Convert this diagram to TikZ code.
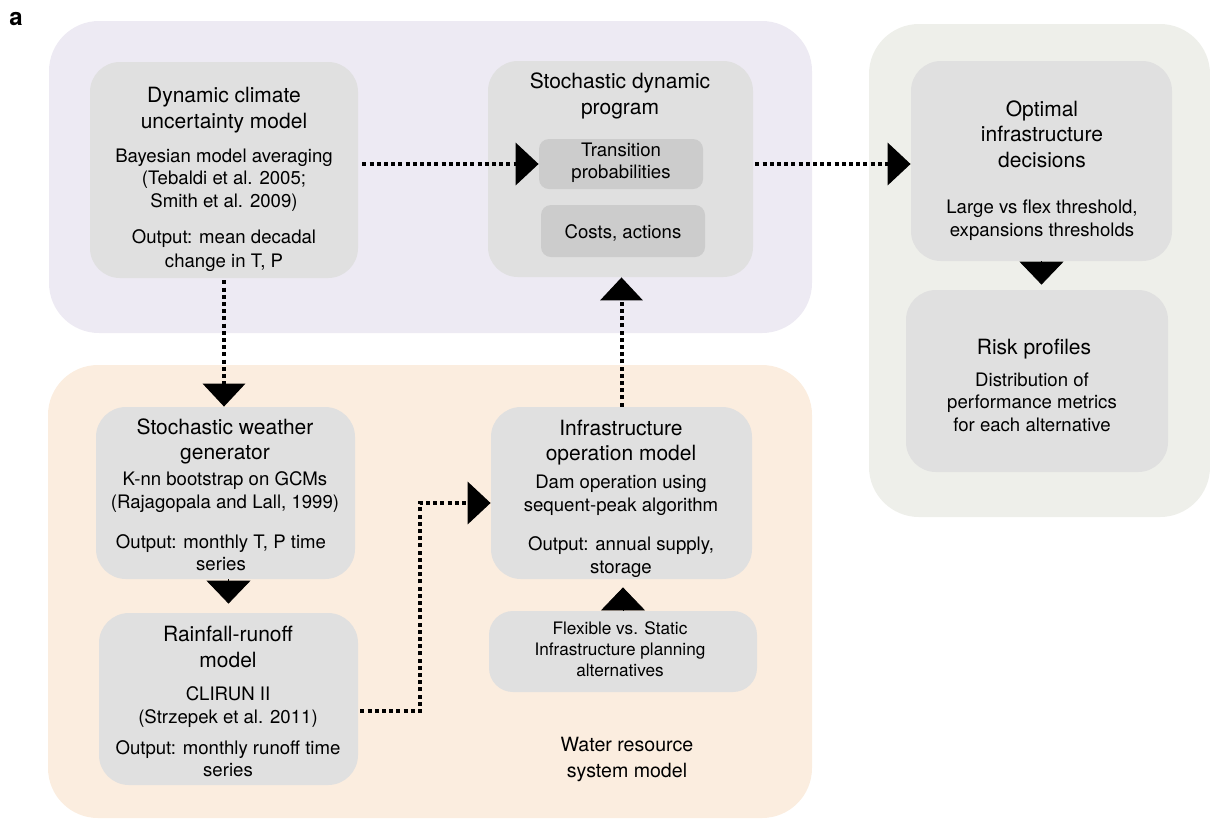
\documentclass[tikz,border=0pt]{standalone}
\usepackage{fontspec}
\setmainfont{TeX Gyre Heros}
\usetikzlibrary{arrows.meta,fit}
\definecolor{purpbg}{RGB}{237,234,243}
\definecolor{greenbg}{RGB}{238,239,234}
\definecolor{orangebg}{RGB}{251,237,223}
\definecolor{boxgray}{RGB}{224,224,224}
\definecolor{innergray}{RGB}{204,204,204}
\begin{document}
\begin{tikzpicture}[x=0.5pt,y=-0.5pt,
 panel/.style={rounded corners=25pt, inner sep=0pt, draw=none},
 box/.style={fill=boxgray, rounded corners=15pt, inner sep=0pt},
 inbox/.style={fill=innergray, rounded corners=5pt, inner sep=0pt},
 ttl/.style={anchor=base, align=center, inner sep=0pt, font=\fontsize{10.5}{13}\selectfont},
 sub/.style={anchor=base, align=center, inner sep=0pt, font=\fontsize{9.3}{11.25}\selectfont},
 dotarrow/.style={line width=2pt, dash pattern=on 2pt off 1.6pt, -{Triangle[length=11.5pt,width=21pt]}},
 solidtip/.style={line width=0.4pt, -{Triangle[length=11.5pt,width=22pt]}}
]
\useasboundingbox (0,0) rectangle (1210,821);
% panels
\node[panel, fill=purpbg, fit={(49,21)(812,333)}] (climatePanel) {};
\node[panel, fill=greenbg, fit={(869,24)(1210,517)}] (decisionPanel) {};
\node[panel, fill=orangebg, fit={(48,365)(812,818)}] (waterPanel) {};
% boxes
\node[box, fit={(90,62)(358,278)}] (dyn) {};
\node[box, fit={(488,61)(753,277)}] (sdp) {};
\node[inbox, fit={(539,139)(703,189)}] (trans) {};
\node[inbox, fit={(541,205)(705,257)}] (costs) {};
\node[box, fit={(911,61)(1172,261)}] (opt) {};
\node[box, fit={(906,290)(1168,472)}] (risk) {};
\node[box, fit={(96,407)(355,579)}] (weather) {};
\node[box, fit={(99,613)(358,785)}] (rain) {};
\node[box, fit={(491,407)(752,579)}] (infra) {};
\node[box, rounded corners=12pt, fit={(489,611)(757,692)}] (flex) {};
% label
\node[anchor=base west, inner sep=0pt, font=\bfseries\fontsize{12}{14}\selectfont] (panelLabel) at (9,25) {a};
% texts (positions are baselines of the last line)
\node[ttl] (dynT) at (224,128) {Dynamic climate\\uncertainty model};
\node[sub] (dynS1) at (224,207) {Bayesian model averaging\\(Tebaldi et al. 2005;\\Smith et al. 2009)};
\node[sub, font=\fontsize{9.3}{11.8}\selectfont] (dynS2) at (224,267) {Output: mean decadal\\change in T, P};
\node[ttl] (sdpT) at (620,114) {Stochastic dynamic\\program};
\node[sub, font=\fontsize{9.3}{10.6}\selectfont] (transT) at (621,178) {Transition\\probabilities};
\node[sub] (costsT) at (623,238) {Costs, actions};
\node[ttl, font=\fontsize{10.5}{12.6}\selectfont] (optT) at (1042,167) {Optimal\\infrastructure\\decisions};
\node[sub] (optS) at (1042,236) {Large vs flex threshold,\\expansions thresholds};
\node[ttl] (riskT) at (1034,354) {Risk profiles};
\node[sub] (riskS) at (1032,431) {Distribution of\\performance metrics\\for each alternative};
\node[ttl, font=\fontsize{10.5}{12.5}\selectfont] (weatherT) at (225,459) {Stochastic weather\\generator};
\node[sub] (weatherS1) at (225,508) {K-nn bootstrap on GCMs\\(Rajagopala and Lall, 1999)};
\node[sub, font=\fontsize{9.3}{10.6}\selectfont] (weatherS2) at (221,570) {Output: monthly T, P time\\series};
\node[ttl, font=\fontsize{10.5}{12.7}\selectfont] (rainT) at (228,667) {Rainfall-runoff\\model};
\node[sub] (rainS1) at (228,723) {CLIRUN II\\(Strzepek et al. 2011)};
\node[sub, font=\fontsize{9.3}{10.6}\selectfont] (rainS2) at (228,776) {Output: monthly runoff time\\series};
\node[ttl, font=\fontsize{10.5}{12.2}\selectfont] (infraT) at (621,460) {Infrastructure\\operation model};
\node[sub] (infraS1) at (621,511) {Dam operation using\\sequent-peak algorithm};
\node[sub] (infraS2) at (621,573) {Output: annual supply,\\storage};
\node[sub, font=\fontsize{8.6}{10.5}\selectfont] (flexT) at (620,676) {Flexible vs. Static\\Infrastructure planning\\alternatives};
\node[ttl, font=\fontsize{9.8}{13}\selectfont] (waterT) at (627,777) {Water resource\\system model};
% connectors
\draw[dotarrow, shorten <=2pt] (dyn.east |- trans.west) -- (trans.west);
\draw[dotarrow, shorten <=1pt] (sdp.east |- trans.west) -- (opt.west |- trans.west);
\draw[dotarrow, shorten <=1pt] (dyn.south) -- (dyn.south |- weather.north);
\draw[dotarrow] (infra.north) -- (infra.north |- sdp.south);
\coordinate (bendLow) at (420,711);
\coordinate (bendHigh) at (420,503);
\draw[dotarrow, shorten <=1pt] (rain.east |- bendLow) -- (bendLow) -- (bendHigh) -- (infra.west |- bendHigh);
\draw[solidtip, shorten >=4.5pt] (rain.north |- weather.south) -- (rain.north);
\draw[solidtip, shorten >=2.5pt] (opt.south) -- (opt.south |- risk.north);
\draw[solidtip, shorten >=4pt] (flex.north) -- (flex.north |- infra.south);
\end{tikzpicture}
\end{document}
